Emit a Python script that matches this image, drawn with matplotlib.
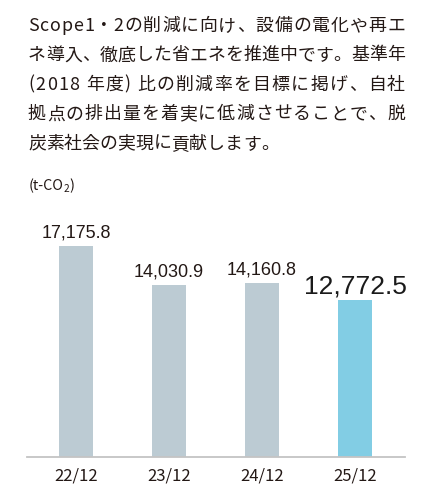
import matplotlib
matplotlib.use("Agg")
import matplotlib.pyplot as plt
from matplotlib.font_manager import FontProperties, findfont
from matplotlib.ft2font import FT2Font

categories = ["22/12", "23/12", "24/12", "25/12"]
values = [17175.8, 14030.9, 14160.8, 12772.5]
value_labels = ["17,175.8", "14,030.9", "14,160.8", "12,772.5"]
unit_main, unit_sub, unit_end = "(t-CO", "2", ")"
paragraph = [
    "Scope1・2の削減に向け、設備の電化や再エ",
    "ネ導入、徹底した省エネを推進中です。基準年",
    "(2018 年度) 比の削減率を目標に掲げ、自社",
    "拠点の排出量を着実に低減させることで、脱",
    "炭素社会の実現に貢献します。",
]

W, H = 437, 484
DPI = 100
fig = plt.figure(figsize=(W / DPI, H / DPI), dpi=DPI)
fig.patch.set_facecolor("white")

jp = ["Noto Sans CJK JP", "DejaVu Sans"]
PSIZE = 12.9
TXT = "#231815"

font = FT2Font(findfont(FontProperties(family="Noto Sans CJK JP")))


def advance(ch, size):
    font.set_size(size, DPI)
    g = font.load_char(ord(ch))
    return g.linearHoriAdvance / 65536.0


# paragraph, justified per character
x0, x1 = 28, 405
base0 = 31
step = 29.4
for i, line in enumerate(paragraph):
    advs = [advance(c, PSIZE) for c in line]
    natural = sum(advs)
    justify = i < len(paragraph) - 1
    gap = (x1 - x0 - natural) / (len(line) - 1) if justify else 0.0
    xpos = x0
    y = 1 - (base0 + i * step) / H
    for c, a in zip(line, advs):
        if c != " ":
            fig.text(xpos / W, y, c, family=jp, fontsize=PSIZE, color=TXT,
                     va="baseline", ha="left")
        xpos += a + gap

# unit label with subscript
USIZE, SSIZE = 10.3, 7.2
ux, ubase = 28.5, 190
fig.text(ux / W, 1 - ubase / H, unit_main, family=jp, fontsize=USIZE, color=TXT,
         va="baseline", ha="left")
ux += sum(advance(c, USIZE) for c in unit_main)
fig.text(ux / W, 1 - (ubase + 2.5) / H, unit_sub, family=jp, fontsize=SSIZE, color=TXT,
         va="baseline", ha="left")
ux += advance(unit_sub, SSIZE)
fig.text(ux / W, 1 - ubase / H, unit_end, family=jp, fontsize=USIZE, color=TXT,
         va="baseline", ha="left")

# axes
left, right = 27, 405
bottom = 457
scale = 211 / values[0]
ymax = 20000
top = bottom - ymax * scale
ax = fig.add_axes([left / W, 1 - bottom / H, (right - left) / W, (bottom - top) / H])
ax.set_facecolor("none")

x = list(range(len(categories)))
colors = ["#bccbd3", "#bccbd3", "#bccbd3", "#82cde4"]
ax.bar(x, values, width=34 / 93, color=colors, zorder=2)
ax.set_xlim(-49 / 93, 3 + 50 / 93)
ax.set_ylim(0, ymax)

for s in ["top", "right", "left"]:
    ax.spines[s].set_visible(False)
ax.spines["bottom"].set_color("#c4c4c4")
ax.spines["bottom"].set_linewidth(1.3)
ax.set_yticks([])
ax.set_xticks(x)
ax.set_xticklabels(categories, family=jp, fontsize=12, color=TXT)
ax.tick_params(axis="x", length=0, pad=7.5)

for i, (v, lab) in enumerate(zip(values, value_labels)):
    big = i == len(values) - 1
    ax.annotate(lab, (i, v), xytext=(0, 5 if big else 6), textcoords="offset points",
                ha="center", va="baseline", family=["Liberation Sans", "DejaVu Sans"],
                fontsize=19 if big else 13, color="#231815" if not big else "#1a1a1a")

fig.savefig("out.png", dpi=DPI, facecolor="white")
